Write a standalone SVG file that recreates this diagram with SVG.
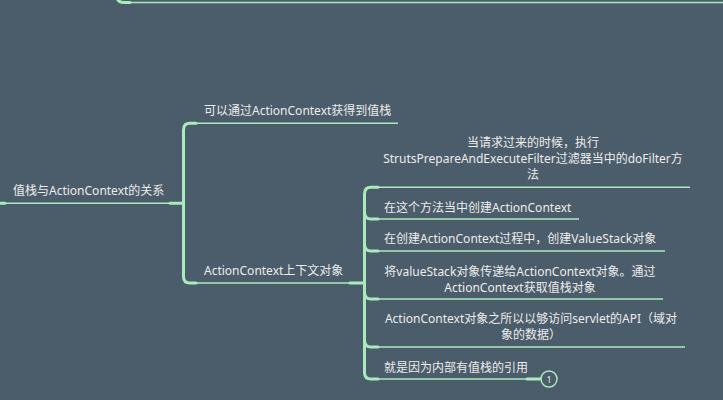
<svg xmlns="http://www.w3.org/2000/svg" width="723" height="400" viewBox="0 0 723 400">
<style>
.t{font-family:"Noto Sans","Noto Sans CJK SC",sans-serif;font-size:12px;fill:#ececec}
.c{text-anchor:middle}
.thin{fill:none;stroke:#a9ebbc;stroke-width:1.5}
.thick{fill:none;stroke:#a9ebbc;stroke-width:3;stroke-linecap:round;stroke-linejoin:round}
</style>
<rect width="723" height="400" fill="#4b5d6b"/>
<g id="connectors">
  <path class="thick" d="M117 -8 V-4 Q117 2.5 124 2.5 H130"/>
  <path class="thin" d="M124 2.5 H723"/>
  <path class="thin" d="M0 203.3 H183"/>
  <path class="thick" d="M0 203.3 H5 M170 203.3 H183"/>
  <path class="thick" d="M196 123.3 H190 Q183.5 123.3 183.5 130 V276.5 Q183.5 283 190 283 H196"/>
  <path class="thin" d="M190 123.3 H398 M190 283 H364"/>
  <path class="thick" d="M350 283 H364"/>
  <path class="thick" d="M378 187.3 H371 Q364.5 187.3 364.5 194 V372.5 Q364.5 379 371 379 H378"/>
  <path class="thick" d="M364.5 212 Q364.5 219 371 219 H378 M364.5 244 Q364.5 251 371 251 H378 M364.5 292 Q364.5 299 371 299 H378 M364.5 340 Q364.5 347 371 347 H378"/>
  <path class="thin" d="M371 187.3 H690 M371 219 H579 M371 251 H665 M371 299 H663 M371 347 H685 M371 379 H541"/>
  <path class="thick" d="M527 379 H540"/>
</g>
<g id="root"><text class="t" x="13" y="195">值栈与ActionContext的关系</text></g>
<g id="n1"><text class="t" x="204" y="115">可以通过ActionContext获得到值栈</text></g>
<g id="n2"><text class="t" x="204" y="275">ActionContext上下文对象</text></g>
<g id="n3"><text class="t c" x="533" y="147">当请求过来的时候，执行</text><text class="t c" x="533" y="163">StrutsPrepareAndExecuteFilter过滤器当中的doFilter方</text><text class="t c" x="533" y="179">法</text></g>
<g id="n4"><text class="t" x="384" y="212">在这个方法当中创建ActionContext</text></g>
<g id="n5"><text class="t" x="384" y="243">在创建ActionContext过程中，创建ValueStack对象</text></g>
<g id="n6"><text class="t c" x="520" y="276">将valueStack对象传递给ActionContext对象。通过</text><text class="t c" x="520" y="292">ActionContext获取值栈对象</text></g>
<g id="n7"><text class="t c" x="531" y="323">ActionContext对象之所以以够访问servlet的API（域对</text><text class="t c" x="531" y="339">象的数据）</text></g>
<g id="n8"><text class="t" x="384" y="372">就是因为内部有值栈的引用</text></g>
<g id="badge"><circle cx="549" cy="379" r="8" fill="#4b5d6b" stroke="#a9ebbc" stroke-width="1.5"/><text x="549" y="382.5" text-anchor="middle" style="font-family:'Noto Sans',sans-serif;font-size:9px;fill:#ececec">1</text></g>
</svg>
